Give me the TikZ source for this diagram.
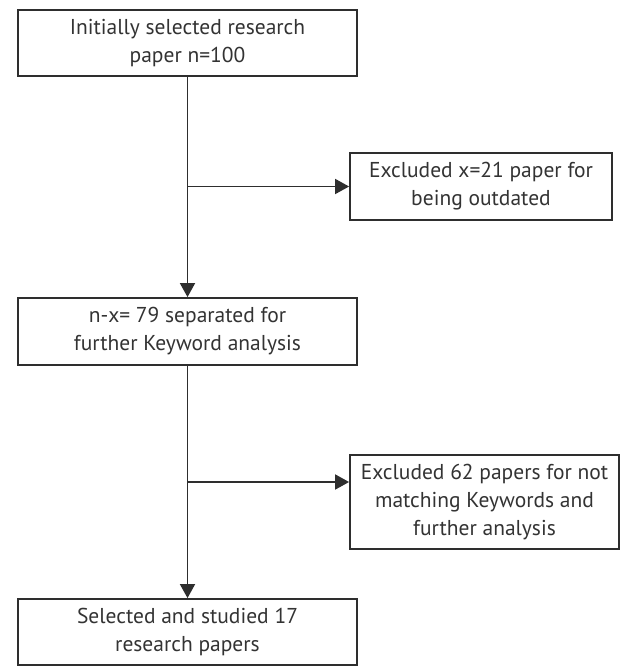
\documentclass[tikz,border=0pt]{standalone}
\usepackage{fontspec}
\setmainfont{PT Sans}
\usetikzlibrary{arrows.meta,positioning}
\definecolor{boxline}{HTML}{2E2E2E}
\definecolor{boxtext}{HTML}{333333}

\begin{document}
\begin{tikzpicture}[x=1pt,y=-1pt,
    stage/.style={draw=boxline,line width=1.8pt,inner sep=0pt,align=center,
      text=boxtext,font=\fontsize{21.5}{28}\selectfont},
    flow/.style={draw=boxline,line width=1.8pt,-{Triangle[length=14pt,width=15pt]}}]
    \useasboundingbox (0,0) rectangle (621,666);
    % main column
    \node[stage,minimum width=339pt,minimum height=66pt] (init) at (187.5,43)
      {Initially selected research\\paper n=100};
    \node[stage,minimum width=339pt,minimum height=67pt] (sep) at (187.5,331.5)
      {n-x= 79 separated for\\further Keyword analysis};
    \node[stage,minimum width=339pt,minimum height=66pt] (final) at (187.5,632)
      {Selected and studied 17\\research papers};
    % excluded boxes
    \node[stage,minimum width=262pt,minimum height=67pt] (excl1) at (481,186.5)
      {Excluded x=21 paper for\\being outdated};
    \node[stage,minimum width=269pt,minimum height=94pt] (excl2) at (484.5,502)
      {Excluded 62 papers for not\\matching Keywords and\\further analysis};
    \coordinate (b1) at (187.5,186.5);
    \coordinate (b2) at (187.5,482);
    \draw[flow] (init.south) -- (sep.north);
    \draw[flow] (sep.south) -- (final.north);
    \draw[flow] (b1) -- (excl1.west);
    \draw[flow] (b2) -- (b2 -| excl2.west);
  \end{tikzpicture}
\end{document}
